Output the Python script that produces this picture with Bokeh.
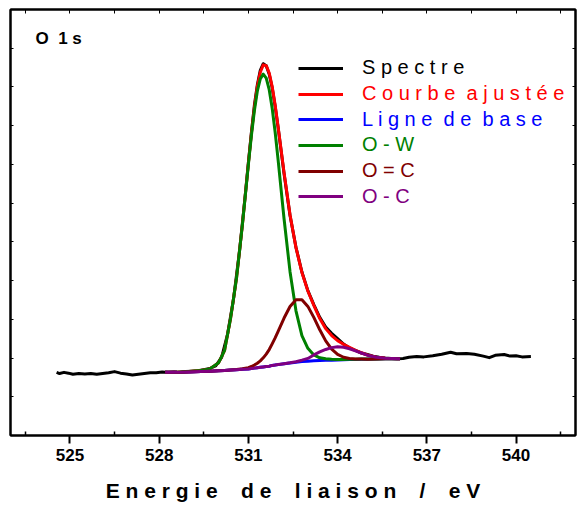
from bokeh.plotting import figure
from bokeh.models import (FixedTicker, LinearAxis, Range1d, Legend, LegendItem, Label,
                          CustomLabelingPolicy)
from bokeh.embed import file_html
from bokeh.resources import INLINE

# ---------------- data ----------------
spec_x = [524.55, 524.65, 524.8, 524.95, 525.1, 525.3, 525.5, 525.7, 525.9, 526.1,
          526.3, 526.5, 526.7, 526.9, 527.1, 527.3, 527.5, 527.7, 527.9, 528.1,
          528.3, 528.5, 528.7, 528.9, 529.1, 529.3, 529.5, 529.7, 529.9, 530.1,
          530.3, 530.5, 530.7, 530.9, 531.0, 531.1, 531.2, 531.3, 531.4, 531.5,
          531.6, 531.7, 531.8, 531.9, 532.0, 532.2, 532.4, 532.6, 532.8, 533.0,
          533.2, 533.4, 533.6, 533.8, 534.0, 534.2, 534.4, 534.6, 534.8, 535.0,
          535.2, 535.4, 535.6, 535.8, 536.0,
          536.2, 536.4, 536.66, 536.9, 537.2, 537.5, 537.8, 538.0, 538.34, 538.6,
          538.9, 539.1, 539.3, 539.6, 539.8, 540.0, 540.2, 540.5]
spec_y = [1.63, 1.60, 1.63, 1.61, 1.58, 1.60, 1.59, 1.60, 1.58, 1.60,
          1.62, 1.65, 1.61, 1.59, 1.56, 1.58, 1.60, 1.62, 1.62, 1.64,
          1.63, 1.64, 1.63, 1.65, 1.66, 1.67, 1.70, 1.73, 1.80, 2.02,
          2.62, 3.52, 4.75, 6.25, 7.05, 7.82, 8.52, 9.05, 9.43, 9.60,
          9.55, 9.33, 8.98, 8.50, 7.95, 6.76, 5.68, 4.86, 4.22, 3.74,
          3.38, 3.05, 2.80, 2.64, 2.50, 2.36, 2.26, 2.20, 2.13, 2.09,
          2.05, 2.02, 2.00, 1.99, 1.98,
          1.99, 2.02, 2.04, 2.03, 2.06, 2.10, 2.15, 2.11, 2.12, 2.10,
          2.05, 2.01, 2.07, 2.09, 2.05, 2.06, 2.03, 2.04]

fit_x = [528.2, 528.6, 529.0, 529.4, 529.7, 530.0, 530.2, 530.4, 530.6, 530.8,
         531.0, 531.1, 531.2, 531.3, 531.4, 531.5, 531.6, 531.7, 531.8, 531.9,
         532.0, 532.2, 532.4, 532.6, 532.8, 533.0, 533.2, 533.4, 533.6, 533.8,
         534.0, 534.2, 534.4, 534.6, 534.8, 535.0, 535.3, 535.6, 536.1]
baseline = [1.63, 1.63, 1.64, 1.65, 1.66, 1.67, 1.68, 1.69, 1.70, 1.71,
            1.72, 1.73, 1.74, 1.75, 1.76, 1.77, 1.78, 1.79, 1.81, 1.82,
            1.83, 1.85, 1.87, 1.89, 1.91, 1.92, 1.93, 1.935, 1.94, 1.945,
            1.95, 1.955, 1.96, 1.965, 1.97, 1.97, 1.975, 1.98, 1.98]
fit_curve = [1.633, 1.636, 1.655, 1.68, 1.72, 1.88, 2.20, 3.02, 4.06, 5.46,
             7.03, 7.79, 8.46, 9.01, 9.38, 9.57, 9.55, 9.36, 9.01, 8.53,
             7.97, 6.78, 5.70, 4.85, 4.21, 3.73, 3.36, 3.02, 2.76, 2.58,
             2.45, 2.355, 2.275, 2.20, 2.137, 2.078, 2.023, 1.997, 1.982]
o_w = [1.633, 1.636, 1.655, 1.68, 1.72, 1.88, 2.20, 3.02, 4.06, 5.45,
       7.00, 7.74, 8.38, 8.89, 9.21, 9.33, 9.23, 8.93, 8.45, 7.83,
       7.11, 5.59, 4.23, 3.22, 2.58, 2.25, 2.08, 2.005, 1.98, 1.97,
       1.965, 1.965, 1.967, 1.97, 1.974, 1.973, 1.977, 1.981, 1.98]
o_dc = [1.63, 1.63, 1.64, 1.65, 1.66, 1.67, 1.68, 1.691, 1.704, 1.722,
        1.752, 1.781, 1.818, 1.866, 1.927, 2.006, 2.103, 2.219, 2.366, 2.52,
        2.688, 3.033, 3.332, 3.506, 3.508, 3.334, 3.05, 2.729, 2.443, 2.231,
        2.095, 2.021, 1.987, 1.975, 1.973, 1.971, 1.975, 1.98, 1.98]
o_sc = [1.63, 1.63, 1.64, 1.65, 1.66, 1.67, 1.68, 1.69, 1.70, 1.71,
        1.72, 1.73, 1.74, 1.75, 1.76, 1.77, 1.78, 1.79, 1.81, 1.82,
        1.833, 1.855, 1.876, 1.905, 1.945, 1.99, 2.08, 2.157, 2.221, 2.269,
        2.29, 2.279, 2.241, 2.187, 2.13, 2.074, 2.021, 1.996, 1.982]

major_ticks = [525, 528, 531, 534, 537, 540]
minor_ticks = [523.5, 526.5, 529.5, 532.5, 535.5, 538.5, 541.5]
y_ticks = [1, 2, 3, 4, 5, 6, 7, 8, 9, 10]

series_labels = ["S p e c t r e",
                 "C o u r b e \u00a0a j u s t \u00e9 e",
                 "L i g n e \u00a0d e \u00a0b a s e",
                 "O - W", "O = C", "O - C"]
series_colors = ["#000000", "#FF0000", "#0000FF", "#008000", "#800000", "#800080"]
x_title = "E n e r g i e \u00a0\u00a0\u00a0d e \u00a0\u00a0\u00a0l i a i s o n \u00a0\u00a0\u00a0/ \u00a0\u00a0\u00a0e V"
panel_title = "O\u00a0 1 s"

FONT = "Liberation Sans"

p = figure(width=578, height=504, x_range=Range1d(523, 542), y_range=Range1d(0, 11),
           output_backend="svg", toolbar_location=None,
           min_border_left=10, min_border_right=3, min_border_top=9, min_border_bottom=0)
p.grid.visible = False
p.outline_line_color = "black"
p.outline_line_width = 2
p.background_fill_color = "white"
p.border_fill_color = "white"

no_labels = CustomLabelingPolicy(code="return new Set()")

# bottom axis
xa = p.xaxis[0]
xa.ticker = FixedTicker(ticks=major_ticks, minor_ticks=minor_ticks)
xa.major_tick_out = 8
xa.major_tick_in = 0
xa.minor_tick_in = 4
xa.minor_tick_out = 0
xa.major_tick_line_width = 2
xa.minor_tick_line_width = 1.5
xa.major_tick_line_color = "black"
xa.minor_tick_line_color = "black"
xa.axis_line_width = 2
xa.axis_line_color = "black"
xa.major_label_text_font = FONT
xa.major_label_text_font_style = "bold"
xa.major_label_text_font_size = "17px"
xa.major_label_text_color = "black"
xa.major_label_standoff = 5
xa.axis_label = x_title
xa.axis_label_text_font = FONT
xa.axis_label_text_font_style = "bold"
xa.axis_label_text_font_size = "21px"
xa.axis_label_text_color = "black"
xa.axis_label_standoff = 15

# left axis: inward ticks only
ya = p.yaxis[0]
ya.ticker = FixedTicker(ticks=y_ticks, minor_ticks=[])
ya.major_tick_in = 3
ya.major_tick_out = 0
ya.major_label_text_font_size = "0px"
ya.major_label_standoff = 0
ya.major_label_policy = no_labels
ya.axis_line_width = 2

# top and right axes with inward ticks
top = LinearAxis(ticker=FixedTicker(ticks=sorted(major_ticks + minor_ticks), minor_ticks=[]),
                 major_tick_in=4, major_tick_out=0, major_label_text_font_size="0px",
                 major_label_standoff=0, major_label_policy=no_labels, axis_line_width=2)
p.add_layout(top, "above")
right = LinearAxis(ticker=FixedTicker(ticks=y_ticks, minor_ticks=[]),
                   major_tick_in=3, major_tick_out=0, major_label_text_font_size="0px",
                   major_label_standoff=0, major_label_policy=no_labels, axis_line_width=2)
p.add_layout(right, "right")

lw = 3
r_spec = p.line(spec_x, spec_y, line_color=series_colors[0], line_width=lw, line_join="round")
r_fit = p.line(fit_x, fit_curve, line_color=series_colors[1], line_width=lw, line_join="round")
r_base = p.line(fit_x, baseline, line_color=series_colors[2], line_width=lw, line_join="round")
r_ow = p.line(fit_x, o_w, line_color=series_colors[3], line_width=lw, line_join="round")
r_dc = p.line(fit_x, o_dc, line_color=series_colors[4], line_width=lw, line_join="round")
r_sc = p.line(fit_x, o_sc, line_color=series_colors[5], line_width=lw, line_join="round")
renderers = [r_spec, r_fit, r_base, r_ow, r_dc, r_sc]

for i, (lab, r, col) in enumerate(zip(series_labels, renderers, series_colors)):
    lg = Legend(items=[LegendItem(label=lab, renderers=[r])],
                location=(288, 355.7 - 25.7 * i),
                label_text_color=col, label_text_font=FONT, label_text_font_size="20px",
                glyph_width=45, glyph_height=20, label_height=20, label_standoff=19,
                padding=0, margin=0, spacing=0, border_line_alpha=0,
                background_fill_alpha=0)
    p.add_layout(lg)

p.add_layout(Label(x=523.84, y=10.26, text=panel_title, text_font=FONT,
                   text_font_style="bold", text_font_size="17px", text_baseline="middle",
                   text_color="black"))

open("out.html", "w").write(file_html(p, INLINE))
